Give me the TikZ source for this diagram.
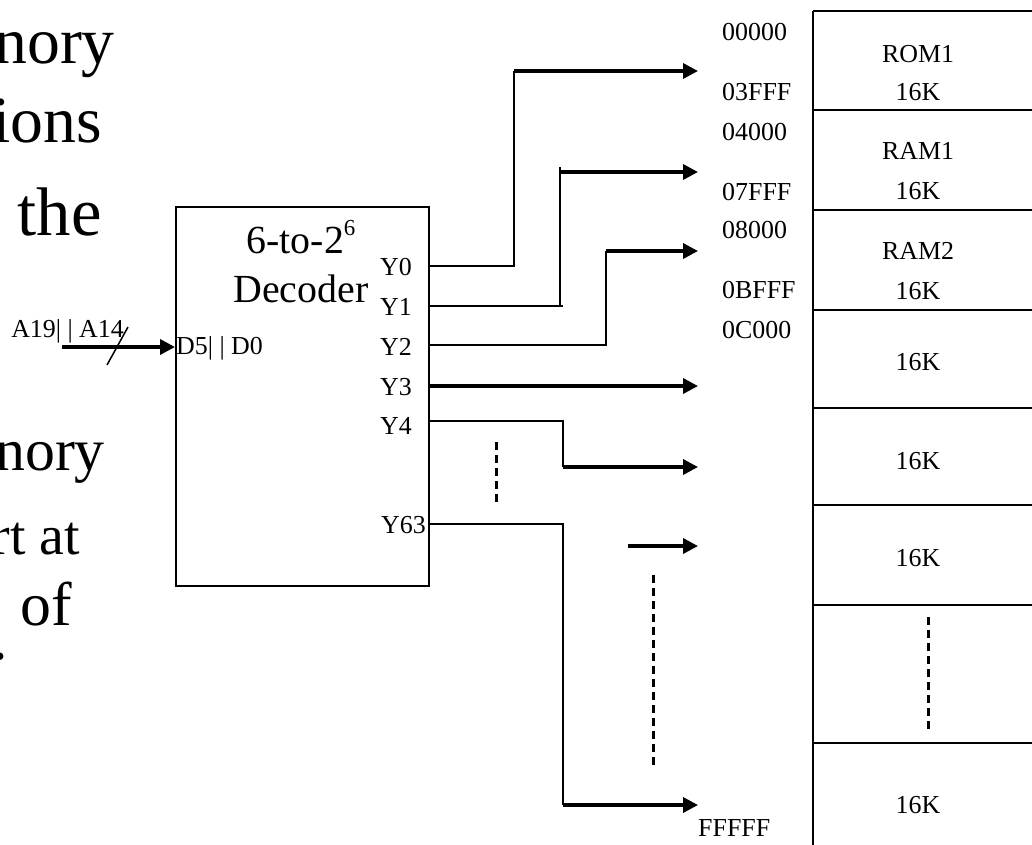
\documentclass[tikz,border=0pt]{standalone}
\usepackage{fontspec}
\setmainfont{Liberation Serif}
\usetikzlibrary{arrows.meta, positioning}

\begin{document}
\begin{tikzpicture}[
    x=1bp, y=-1bp,
    every node/.style={font=\fontsize{26}{30}\selectfont, inner sep=0pt},
    decoder/.style={rectangle, draw=black, line width=1.5bp, anchor=north west,
                    minimum width=253bp, minimum height=379bp},
    slide/.style={anchor=base east, font=\fontsize{#1}{#1}\selectfont},
    title/.style={anchor=base, font=\fontsize{40}{48}\selectfont},
    addr/.style={anchor=west},
    wire/.style={line width=1.5bp},
    bus/.style={line width=3.5bp, -{Triangle[length=15bp, width=15bp]}},
    gap/.style={line width=3bp, dash pattern=on 8bp off 5bp},
    cell/.style={line width=2bp},
]
\useasboundingbox (0,0) rectangle (1032,845);

% slide text cut off on the left
\node[slide=66] (t1) at (115,63) {nory};
\node[slide=66] (t2) at (102,142) {ions};
\node[slide=69] (t3) at (102,235) {the};
\node[slide=60] (t4) at (105,470) {nory};
\node[slide=56] (t5) at (80,554) {rt at};
\node[slide=62] (t6) at (72,625) {of};
\node[slide=62] (t7) at (8,659) {.};

% decoder
\node[decoder] (dec) at (175,206) {};
\node[title] (dtop) at (301,253) {6-to-2\raisebox{18bp}{\fontsize{23}{23}\selectfont 6}};
\node[title] (dname) at (301,302) {Decoder};
\node[anchor=west] (ly0) at (380,267) {Y0};
\node[anchor=west] (ly1) at (380,307) {Y1};
\node[anchor=west] (ly2) at (380,347) {Y2};
\node[anchor=west] (ly3) at (380,387) {Y3};
\node[anchor=west] (ly4) at (380,426) {Y4};
\node[anchor=west] (ly63) at (381,525) {Y63};
\node[anchor=west] (din) at (176,348) {D5| | D0};

% address input
\coordinate (ain) at (62,347);
\node[anchor=base east] (abus) at (124,337) {A19| | A14};
\draw[bus] (ain) -- (ain -| dec.west);
\draw[wire] (107,365) -- (128,327);

% decoder outputs
\coordinate (y0) at (428,266);
\coordinate (y1) at (428,306);
\coordinate (y2) at (428,345);
\coordinate (y3) at (428,386);
\coordinate (y4) at (428,421);
\coordinate (y63) at (428,524);

\coordinate (b0) at (514,71);
\coordinate (b1) at (560,172);
\coordinate (b2) at (606,251);
\coordinate (b4) at (563,467);
\coordinate (b63) at (563,805);
\coordinate (s5) at (628,546);

\coordinate (m0) at (698,71);
\coordinate (m1) at (698,172);
\coordinate (m2) at (698,251);
\coordinate (m3) at (698,386);
\coordinate (m4) at (698,467);
\coordinate (m5) at (698,546);
\coordinate (m63) at (698,805);

\draw[wire] (y0) -| (b0);
\draw[bus] (b0) -- (m0);
\draw[wire] (y1) -- ([xshift=3bp]y1 -| b1);
\draw[wire] (y1 -| b1) -- ([yshift=5bp]b1);
\draw[bus] (b1) -- (m1);
\draw[wire] (y2) -| (b2);
\draw[bus] (b2) -- (m2);
\draw[bus] (y3) -- (m3);
\draw[wire] (y4) -| (b4);
\draw[bus] (b4) -- (m4);
\draw[wire] (y63) -| (b63);
\draw[bus] (b63) -- (m63);
\draw[bus] (s5) -- (m5);

\draw[gap] (496,442) -- (496,502);
\draw[gap] (653,575) -- (653,766);

% memory map
\draw[cell, line width=2.5bp] (813,11) -- (813,845);
\draw[cell] (813,11) -- (1032,11);
\draw[cell] (813,110) -- (1032,110);
\draw[cell] (813,210) -- (1032,210);
\draw[cell] (813,310) -- (1032,310);
\draw[cell] (813,408) -- (1032,408);
\draw[cell] (813,505) -- (1032,505);
\draw[cell] (813,605) -- (1032,605);
\draw[cell] (813,743) -- (1032,743);
\draw[gap] (928,617) -- (928,730);

\node (rom1) at (918,54) {ROM1};
\node (k0) at (918,92) {16K};
\node (ram1) at (918,151) {RAM1};
\node (k1) at (918,191) {16K};
\node (ram2) at (918,251) {RAM2};
\node (k2) at (918,291) {16K};
\node (k3) at (918,362) {16K};
\node (k4) at (918,461) {16K};
\node (k5) at (918,558) {16K};
\node (k63) at (918,805) {16K};

\node[addr] (a0) at (722,32) {00000};
\node[addr] (a1) at (722,92) {03FFF};
\node[addr] (a2) at (722,132) {04000};
\node[addr] (a3) at (722,192) {07FFF};
\node[addr] (a4) at (722,230) {08000};
\node[addr] (a5) at (722,290) {0BFFF};
\node[addr] (a6) at (722,330) {0C000};
\node[addr] (a7) at (698,828) {FFFFF};

\end{tikzpicture}
\end{document}
